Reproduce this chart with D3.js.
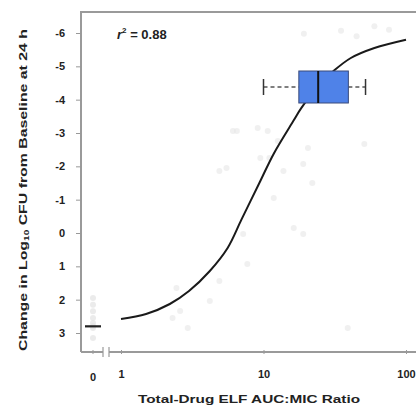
<!DOCTYPE html>
<html>
<head>
<meta charset="utf-8">
<script src="https://cdn.jsdelivr.net/npm/d3@7"></script>
<style>
  body { margin: 0; background: #fff; }
  text { font-family: "Liberation Sans", Arial, sans-serif; font-weight: bold; fill: #222; }
</style>
</head>
<body>
<div id="chart"></div>
<script>
// fitted curve (AUC:MIC ratio, change in log10 CFU)
const curveX = [1, 1.5, 2.2, 3.0, 4.2, 5.6, 7.0, 9.5, 11.8, 16.3, 18.3, 24, 31, 41, 60, 100];
const curveY = [2.58, 2.43, 2.13, 1.74, 1.14, 0.45, -0.4, -1.56, -2.38, -3.38, -3.73, -4.4, -4.86, -5.25, -5.55, -5.8];

// faint observed points
const pointX = [19.2, 35, 45, 60, 76, 6.5, 9.1, 12.6, 20.5, 19, 22, 11, 5.5, 13.8, 51, 10.7, 16.3, 11.8, 39, 7.7, 4.9, 4.2, 2.6, 2.94, 2.3, 2.45, 19, 7.2, 6.1, 4.9, 9.5];
const pointY = [-5.98, -6.07, -5.9, -6.2, -6.1, -3.06, -3.15, -2.76, -2.55, -2.07, -1.5, -2.25, -1.95, -1.86, -2.67, -3.06, -0.15, -1.05, 2.85, 0.93, 1.44, 2.04, 2.34, 2.85, 2.55, 1.65, 0.03, 0.03, -3.06, -1.86, -2.25];
const controlY = [1.95, 2.15, 2.35, 2.55, 2.7, 2.8, 2.85, 3.15];
const controlMedian = 2.8;

// horizontal box plot of the ratio at the target effect
const boxStats = {min: 10, q1: 17.7, median: 24.2, q3: 39.4, max: 52};
const boxLevel = -4.38;
const boxHalf = 0.48;

const yTicks = [-6, -5, -4, -3, -2, -1, 0, 1, 2, 3];
const xTicks = [1, 10, 100];
const r2Label = "0.88";

function drawChart() {
    const W = 416, H = 408;
    const plot = {l: 81, t: 12, b: 352};

    let svg = d3.select("#chart").append("svg")
        .attr("width", W)
        .attr("height", H);
    svg.append("rect").attr("width", W).attr("height", H).attr("fill", "#fff");

    let scaleX = d3.scaleLog().domain([1, 100]).range([121, 406]);
    const zeroX = 93;
    let scaleY = d3.scaleLinear().domain([-6, 3]).range([33, 333]);

    //frame (left + top)
    svg.append("path")
        .attr("d", `M${plot.l},${plot.b}V${plot.t}H${W}`)
        .attr("fill", "none")
        .attr("stroke", "#9a9a9a")
        .attr("stroke-width", 2);

    //y axis ticks
    let axisY = d3.axisLeft(scaleY).tickValues(yTicks).tickSize(5).tickPadding(11)
        .tickFormat(d => String(d));
    let gy = svg.append("g").attr("transform", `translate(${plot.l},0)`).call(axisY);
    gy.select(".domain").remove();
    gy.selectAll("line").attr("stroke", "#999");
    gy.selectAll("text").attr("font-size", 11).attr("font-family", null);

    //x axis (log part) with a break before zero
    let axisX = d3.axisBottom(scaleX).tickValues(xTicks).tickSize(4).tickPadding(14)
        .tickFormat(d3.format("d"));
    let gx = svg.append("g").attr("transform", `translate(0,${plot.b})`).call(axisX);
    gx.select(".domain").remove();
    gx.selectAll("line").attr("stroke", "#999").attr("transform", "translate(0,-2)");
    gx.selectAll("text").attr("font-size", 11).attr("font-family", null);

    svg.append("line").attr("x1", plot.l).attr("x2", 103).attr("y1", plot.b).attr("y2", plot.b)
        .attr("stroke", "#9a9a9a").attr("stroke-width", 2);
    svg.append("line").attr("x1", 109).attr("x2", W).attr("y1", plot.b).attr("y2", plot.b)
        .attr("stroke", "#9a9a9a").attr("stroke-width", 2);
    [103, 109].forEach(function(bx) {
        svg.append("line").attr("x1", bx).attr("x2", bx).attr("y1", plot.b - 5).attr("y2", plot.b + 5)
            .attr("stroke", "#999").attr("stroke-width", 1.2);
    });
    svg.append("line").attr("x1", zeroX).attr("x2", zeroX).attr("y1", plot.b - 2).attr("y2", plot.b + 2)
        .attr("stroke", "#999");
    svg.append("text").attr("x", zeroX).attr("y", plot.b + 29)
        .attr("text-anchor", "middle").attr("font-size", 11).text("0");

    //axis titles
    svg.append("text")
        .attr("x", 249).attr("y", 403)
        .attr("text-anchor", "middle")
        .attr("font-size", 11.5)
        .attr("textLength", 222).attr("lengthAdjust", "spacingAndGlyphs")
        .text("Total-Drug ELF AUC:MIC Ratio");

    let yt = svg.append("text")
        .attr("transform", "translate(27,190) rotate(-90)")
        .attr("text-anchor", "middle")
        .attr("font-size", 11)
        .attr("textLength", 322).attr("lengthAdjust", "spacingAndGlyphs");
    yt.append("tspan").text("Change in Log");
    yt.append("tspan").attr("font-size", 7).attr("dy", 2).text("10");
    yt.append("tspan").attr("dy", -2).text(" CFU from Baseline at 24 h");

    //faint points
    let pts = pointX.map((x, i) => ({x: x, y: pointY[i]}));
    svg.append("g").selectAll("circle").data(pts).enter().append("circle")
        .attr("cx", d => scaleX(d.x))
        .attr("cy", d => scaleY(d.y))
        .attr("r", 3)
        .attr("fill", "#e6e6e6")
        .attr("opacity", 0.6);
    svg.append("g").selectAll("circle").data(controlY).enter().append("circle")
        .attr("cx", zeroX)
        .attr("cy", d => scaleY(d))
        .attr("r", 3)
        .attr("fill", "#e2e2e2")
        .attr("opacity", 0.7);
    svg.append("line")
        .attr("x1", zeroX - 8).attr("x2", zeroX + 8)
        .attr("y1", scaleY(controlMedian)).attr("y2", scaleY(controlMedian))
        .attr("stroke", "#222").attr("stroke-width", 2.2);

    //fitted curve
    let line = d3.line()
        .x(d => scaleX(d[0]))
        .y(d => scaleY(d[1]))
        .curve(d3.curveCatmullRom.alpha(0.5));
    svg.append("path")
        .datum(curveX.map((x, i) => [x, curveY[i]]))
        .attr("d", line)
        .attr("fill", "none")
        .attr("stroke", "#1a1a1a")
        .attr("stroke-width", 2);

    //box plot
    let bg = svg.append("g");
    const yc = scaleY(boxLevel), yTop = scaleY(boxLevel - boxHalf), yBot = scaleY(boxLevel + boxHalf);
    bg.append("line").attr("x1", scaleX(boxStats.min)).attr("x2", scaleX(boxStats.q1))
        .attr("y1", yc).attr("y2", yc)
        .attr("stroke", "#555").attr("stroke-width", 1.5).attr("stroke-dasharray", "4,3");
    bg.append("line").attr("x1", scaleX(boxStats.q3)).attr("x2", scaleX(boxStats.max))
        .attr("y1", yc).attr("y2", yc)
        .attr("stroke", "#555").attr("stroke-width", 1.5).attr("stroke-dasharray", "4,3");
    [boxStats.min, boxStats.max].forEach(function(v) {
        bg.append("line").attr("x1", scaleX(v)).attr("x2", scaleX(v))
            .attr("y1", yc - 8).attr("y2", yc + 8)
            .attr("stroke", "#333").attr("stroke-width", 1.5);
    });
    bg.append("rect")
        .attr("x", scaleX(boxStats.q1)).attr("y", yTop)
        .attr("width", scaleX(boxStats.q3) - scaleX(boxStats.q1))
        .attr("height", yBot - yTop)
        .attr("fill", "#4f82e8")
        .attr("stroke", "#3a4a7a").attr("stroke-width", 1);
    bg.append("line").attr("x1", scaleX(boxStats.median)).attr("x2", scaleX(boxStats.median))
        .attr("y1", yTop).attr("y2", yBot)
        .attr("stroke", "#111").attr("stroke-width", 2);

    //r squared
    let rt = svg.append("text").attr("x", 117).attr("y", 39).attr("font-size", 13);
    rt.append("tspan").attr("font-style", "italic").text("r");
    rt.append("tspan").attr("font-size", 8).attr("dy", -6).text("2");
    rt.append("tspan").attr("dy", 6).text(" = " + r2Label);
}

drawChart();
</script>
</body>
</html>
